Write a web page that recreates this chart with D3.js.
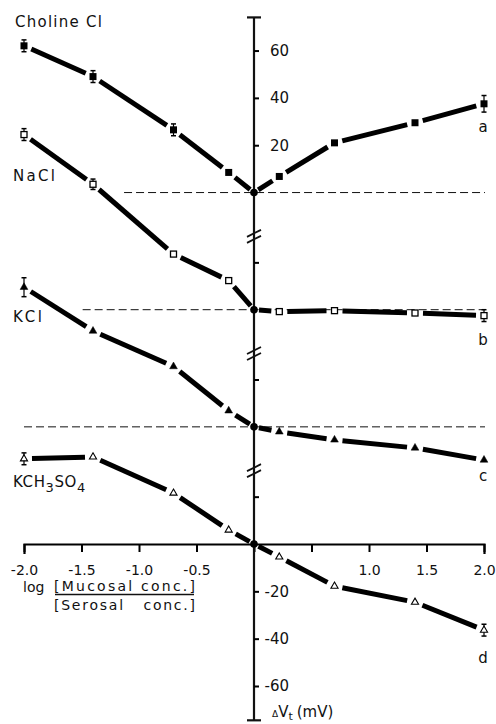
<!DOCTYPE html>
<html>
<head>
<meta charset="utf-8">
<script src="https://cdn.jsdelivr.net/npm/d3@7"></script>
<style>
  body { margin: 0; background: #fff; }
  svg { display: block; font-family: "DejaVu Sans", sans-serif; }
</style>
</head>
<body>
<div id="container"></div>
<script>
/* DATA */
const logRatio = [-2, -1.4, -0.7, -0.22, 0, 0.22, 0.7, 1.4, 2];
const seriesNames = ["Choline Cl", "NaCl", "KCl", "KCH3SO4"];
const seriesKeys = ["a", "b", "c", "d"];
const cholineCl = [62, 49, 26.5, 8.5, 0, 6.8, 21, 29.5, 37.5];
const naCl = [74, 53, 23.5, 12.3, 0, -0.8, -0.4, -1.4, -2.5];
const kCl = [59, 40.5, 25.5, 6.8, 0, -2.1, -5.5, -8.9, -14];
const kCH3SO4 = [36, 36.8, 21.5, 5.9, 0, -5.5, -17.8, -24.6, -36.4];
const cholineErr = [2.5, 2.5, 2.5, 0, 0, 0, 0, 0, 3.5];
const naClErr = [2.5, 2.2, 0, 0, 0, 0, 0, 0, 2.5];
const kClErr = [4, 0, 0, 0, 0, 0, 0, 0, 0];
const kCH3SO4Err = [2.5, 0, 0, 0, 0, 0, 0, 0, 2.5];
// each curve is shifted up the broken axis by this many mV
const breakOffset = [148.5, 99, 49.5, 0];
const baselineStart = [-1.13, -1.49, -2.0];
const yTicksTop = [20, 40, 60];
const yTicksMid = [20];
const yTicksBottom = [-20, -40, -60];
const xTicks = [-2, -1.5, -1, -0.5, 0, 0.5, 1, 1.5, 2];
const xTickLabels = ["-2.0", "-1.5", "-1.0", "-0.5", "", "", "1.0", "1.5", "2.0"];

const values = [cholineCl, naCl, kCl, kCH3SO4];
const errors = [cholineErr, naClErr, kClErr, kCH3SO4Err];

/* CONSTANTS */
const width = 496, height = 724;
const markers = ["fillSquare", "openSquare", "fillTriangle", "openTriangle"];
const keyDy = [28, 29, 21, 33];

const svg = d3.select("#container").append("svg")
  .attr("width", width).attr("height", height);

/* SCALES */
const x = d3.scaleLinear().domain([-2, 2]).range([24, 484]);
const y = d3.scaleLinear().domain([-60, 0]).range([686, 544]);
const shifted = o => y.copy().domain(y.domain().map(d => d - o));

// baselines (dashed)
breakOffset.slice(0, 3).forEach((o, i) => {
  svg.append("line")
    .attr("x1", x(baselineStart[i])).attr("x2", x(2) + 1)
    .attr("y1", y(o)).attr("y2", y(o))
    .attr("stroke", "#111").attr("stroke-width", 1)
    .attr("stroke-dasharray", "8,4");
});

/* AXES */
const xAxis = d3.axisBottom(x)
  .tickValues(xTicks)
  .tickSizeInner(8).tickSizeOuter(10)
  .tickPadding(13)
  .tickFormat((d, i) => xTickLabels[i]);

const gx = svg.append("g")
  .attr("transform", `translate(0,${y(0)})`)
  .call(xAxis);
gx.select(".domain").attr("stroke-width", 2.2);
gx.selectAll(".tick line").attr("stroke-width", 2);
gx.selectAll("text").attr("font-size", 14).attr("font-family", "DejaVu Sans").attr("fill", "#111");

// vertical axis line with end caps
const yTop = y(222.5), yBot = y(-74.5);
svg.append("line").attr("x1", x(0)).attr("x2", x(0))
  .attr("y1", yTop).attr("y2", yBot)
  .attr("stroke", "#111").attr("stroke-width", 2.2);
[yTop, yBot].forEach(v => {
  svg.append("line").attr("x1", x(0) - 7).attr("x2", x(0) + 7)
    .attr("y1", v).attr("y2", v)
    .attr("stroke", "#111").attr("stroke-width", 2.2);
});

function yAxisPart(o, ticks, labelled) {
  const ax = d3.axisRight(shifted(o))
    .tickValues(ticks)
    .tickSize(5)
    .tickFormat(d => labelled ? (d < 0 ? "-" + Math.abs(d) : d) : "");
  const g = svg.append("g").attr("transform", `translate(${x(0)},0)`).call(ax);
  g.select(".domain").remove();
  g.selectAll(".tick line").attr("stroke-width", 2);
  g.selectAll("text").attr("text-anchor", "end").attr("x", 35)
    .attr("font-size", 15).attr("font-family", "DejaVu Sans").attr("fill", "#111");
}
yAxisPart(breakOffset[0], yTicksTop, true);
yAxisPart(breakOffset[1], yTicksMid, false);
yAxisPart(breakOffset[2], yTicksMid, false);
yAxisPart(breakOffset[3], yTicksMid, false);
yAxisPart(0, yTicksBottom, true);

// axis break marks
breakOffset.slice(0, 3).forEach(o => {
  const yb = y(o - 18.5);
  [-3, 3].forEach(d => {
    svg.append("line")
      .attr("x1", x(0) - 7).attr("x2", x(0) + 7)
      .attr("y1", yb + d + 3.5).attr("y2", yb + d - 3.5)
      .attr("stroke", "#111").attr("stroke-width", 1.8);
  });
});

/* SERIES */
values.forEach((vals, s) => {
  const ys = shifted(breakOffset[s]);
  const pts = vals.map((v, i) => [x(logRatio[i]), ys(v)]);

  // thick segments with gaps around markers
  for (let i = 0; i < pts.length - 1; i++) {
    const [x1, y1] = pts[i], [x2, y2] = pts[i + 1];
    const len = Math.hypot(x2 - x1, y2 - y1);
    const ux = (x2 - x1) / len, uy = (y2 - y1) / len;
    const g1 = logRatio[i] === 0 ? 5 : 8, g2 = logRatio[i + 1] === 0 ? 5 : 8;
    svg.append("line")
      .attr("x1", x1 + ux * g1).attr("y1", y1 + uy * g1)
      .attr("x2", x2 - ux * g2).attr("y2", y2 - uy * g2)
      .attr("stroke", "#000").attr("stroke-width", 5);
  }

  // error bars
  errors[s].forEach((e, i) => {
    if (!e) return;
    const cx = x(logRatio[i]);
    const t = ys(vals[i] + e), b = ys(vals[i] - e);
    svg.append("line").attr("x1", cx).attr("x2", cx).attr("y1", t).attr("y2", b)
      .attr("stroke", "#000").attr("stroke-width", 1.2);
    [t, b].forEach(v => svg.append("line")
      .attr("x1", cx - 2.5).attr("x2", cx + 2.5).attr("y1", v).attr("y2", v)
      .attr("stroke", "#000").attr("stroke-width", 1.5));
  });

  // markers
  pts.forEach(([px, py], i) => {
    if (logRatio[i] === 0) {
      svg.append("circle").attr("cx", px).attr("cy", py).attr("r", 3.8).attr("fill", "#000");
      return;
    }
    const m = markers[s];
    if (m === "fillSquare") {
      svg.append("rect").attr("x", px - 3.5).attr("y", py - 3.5)
        .attr("width", 7).attr("height", 7).attr("fill", "#000");
    } else if (m === "openSquare") {
      svg.append("rect").attr("x", px - 3).attr("y", py - 3)
        .attr("width", 6).attr("height", 6)
        .attr("fill", "#fff").attr("stroke", "#000").attr("stroke-width", 1.3);
    } else {
      svg.append("path")
        .attr("d", d3.symbol(d3.symbolTriangle, m === "fillTriangle" ? 26 : 22)())
        .attr("transform", `translate(${px},${py})`)
        .attr("fill", m === "fillTriangle" ? "#000" : "#fff")
        .attr("stroke", "#000").attr("stroke-width", m === "fillTriangle" ? 0.5 : 1.1);
    }
  });

  // a, b, c, d labels
  svg.append("text")
    .attr("x", x(2) - 1).attr("y", pts[pts.length - 1][1] + keyDy[s])
    .attr("text-anchor", "middle").attr("font-size", 15).attr("fill", "#111")
    .text(seriesKeys[s]);
});

/* TEXT */
const label = (t, px, py, len) => svg.append("text")
  .attr("x", px).attr("y", py).attr("font-size", 15).attr("fill", "#111")
  .attr("textLength", len).attr("lengthAdjust", "spacing").text(t);
label(seriesNames[0], 15, 27, 87);
label(seriesNames[1], 13, 181, 42);
label(seriesNames[2], 13, 322, 29);

const k = svg.append("text").attr("x", 13).attr("y", 487)
  .attr("font-size", 15).attr("fill", "#111").attr("letter-spacing", 0.6);
k.append("tspan").text("KCH");
k.append("tspan").attr("dy", 5).attr("font-size", 13).text("3");
k.append("tspan").attr("dy", -5).text("SO");
k.append("tspan").attr("dy", 5).attr("font-size", 13).text("4");

// x axis title
svg.append("text").attr("x", 23).attr("y", 592).attr("font-size", 14).attr("fill", "#111").text("log");
svg.append("text").attr("x", 54).attr("y", 591).attr("font-size", 14).attr("fill", "#111")
  .attr("textLength", 141).attr("lengthAdjust", "spacing").text("[Mucosal conc.]");
svg.append("line").attr("x1", 55).attr("x2", 194).attr("y1", 594.5).attr("y2", 594.5)
  .attr("stroke", "#111").attr("stroke-width", 1.3);
svg.append("text").attr("x", 54).attr("y", 610).attr("font-size", 14).attr("fill", "#111")
  .attr("textLength", 141).attr("lengthAdjust", "spacing").attr("xml:space", "preserve")
  .text("[Serosal   conc.]");

// y axis title
const yt = svg.append("text").attr("x", 272).attr("y", 717).attr("font-size", 15).attr("fill", "#111");
yt.append("tspan").attr("font-size", 9).text("Δ");
yt.append("tspan").text("V");
yt.append("tspan").attr("dy", 3).attr("font-size", 11).text("t");
yt.append("tspan").attr("dy", -3).attr("dx", 4).text("(mV)");
</script>
</body>
</html>
